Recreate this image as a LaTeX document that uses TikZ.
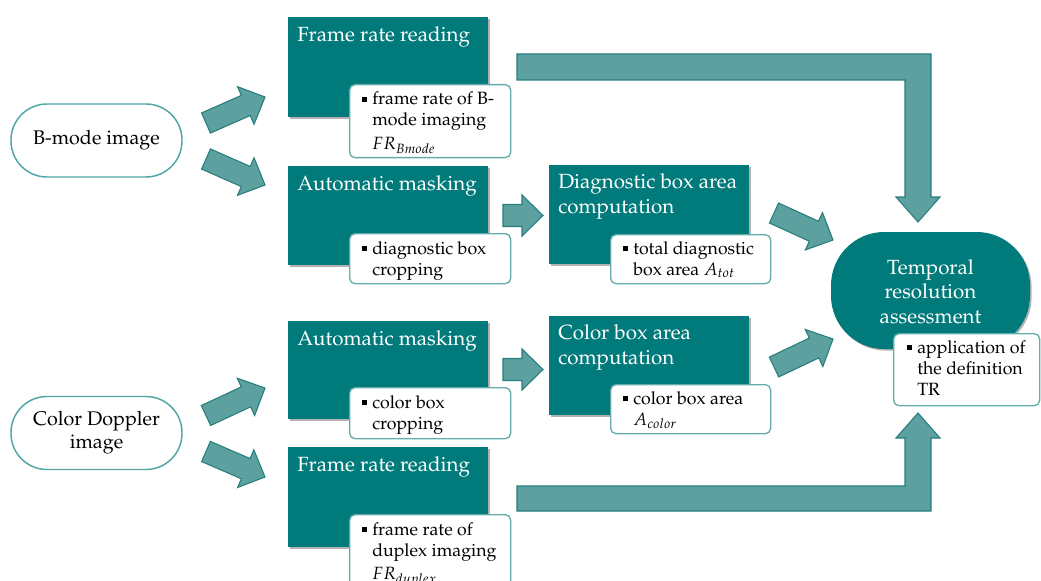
\documentclass[tikz,border=0pt]{standalone}
\usepackage[T1]{fontenc}
\usepackage{mathpazo}
\usetikzlibrary{calc,shadows}
\definecolor{darkteal}{RGB}{0,122,122}
\definecolor{arrowfill}{RGB}{92,160,160}
\definecolor{arrowline}{RGB}{40,125,125}
\definecolor{srcline}{RGB}{80,165,165}
\definecolor{subline}{RGB}{100,172,172}
\newcommand\bsq{\makebox[7.5pt][l]{\rule[2.6pt]{3.6pt}{3.6pt}}}
\newcommand\ind{\hspace*{7.5pt}}
\newcommand\txtlines[1]{\parbox[t]{300pt}{#1}}
\newcommand\barrow[2]{%
  \coordinate (tmpH) at ($(#2)!15.75pt!(#1)$);
  \path[barr] ($(#1)!8.25pt!90:(#2)$) -- ($(tmpH)!8.25pt!90:(#2)$) -- ($(tmpH)!15.4pt!90:(#2)$)
    -- (#2) -- ($(tmpH)!15.4pt!-90:(#2)$) -- ($(tmpH)!8.25pt!-90:(#2)$) -- ($(#1)!8.25pt!-90:(#2)$) -- cycle;}
\begin{document}
\begin{tikzpicture}[x=0.75pt,y=-0.75pt,
  dark/.style={fill=darkteal, draw=none, inner sep=0pt, anchor=north west,
    drop shadow={shadow xshift=1.2pt, shadow yshift=-1.2pt, opacity=0.3, fill=black}},
  subbox/.style={fill=white, draw=subline, line width=1pt, rounded corners=4pt, inner sep=0pt, anchor=north west},
  ttl/.style={text=white, inner sep=0pt, anchor=base west, font=\fontsize{15.4}{18.5}\selectfont},
  stx/.style={text=black, inner sep=0pt, anchor=base west, font=\fontsize{13.3}{15.75}\selectfont},
  src/.style={draw=srcline, line width=1.1pt, fill=white, rounded corners=27pt, minimum width=128.25pt,
    minimum height=54.75pt, align=center, inner sep=0pt, font=\fontsize{14.8}{17.25}\selectfont},
  trbox/.style={fill=darkteal, rounded corners=40pt, inner sep=0pt,
    drop shadow={shadow xshift=1.2pt, shadow yshift=-1.2pt, opacity=0.3, fill=black}},
  barr/.style={fill=arrowfill, draw=arrowline, line width=0.8pt, line join=miter}]
\useasboundingbox (0,0) rectangle (1041,581);

% source nodes
\node[src] (bm) at (96.5,140.5) {B-mode image};
\node[src] (cd) at (96.5,433) {Color Doppler\\image};

% dark process boxes
\node[dark, minimum width=150pt, minimum height=75pt] (frt) at (288,17) {};
\node[dark, minimum width=150pt, minimum height=74.25pt] (amt) at (288,166) {};
\node[dark, minimum width=150pt, minimum height=74.25pt] (dba) at (549,165) {};
\node[dark, minimum width=150pt, minimum height=73.5pt] (amb) at (288,321) {};
\node[dark, minimum width=150pt, minimum height=74.25pt] (cba) at (549,316) {};
\node[dark, minimum width=150pt, minimum height=75pt] (frb) at (288,447) {};
\node[trbox, minimum width=149.25pt, minimum height=87.75pt] (tra) at (930.5,290.5) {};

% titles
\node[ttl] (frtT) at ($(frt.north west)+(9,24.5)$) {Frame rate reading};
\node[ttl] (amtT) at ($(amt.north west)+(9,24.5)$) {Automatic masking};
\node[ttl] (dbaT) at ($(dba.north west)+(9,23.5)$) {\txtlines{Diagnostic box area\\computation}};
\node[ttl] (ambT) at ($(amb.north west)+(9,24.5)$) {Automatic masking};
\node[ttl] (cbaT) at ($(cba.north west)+(9,23.5)$) {\txtlines{Color box area\\computation}};
\node[ttl] (frbT) at ($(frb.north west)+(9,24.5)$) {Frame rate reading};
\node[ttl, anchor=base] (traT) at ($(tra.center)+(0,-16.5)$) {\parbox[t]{150pt}{\centering Temporal\\resolution\\assessment}};

% sub boxes
\node[subbox, minimum width=120.75pt, minimum height=54.75pt] (frtS) at (349,84) {};
\node[subbox, minimum width=120.75pt, minimum height=37.5pt] (amtS) at (349,233) {};
\node[subbox, minimum width=120pt, minimum height=36.75pt] (dbaS) at (610,234) {};
\node[subbox, minimum width=120.75pt, minimum height=38.25pt] (ambS) at (349,387) {};
\node[subbox, minimum width=120pt, minimum height=36.75pt] (cbaS) at (610,384) {};
\node[subbox, minimum width=120.75pt, minimum height=60pt] (frbS) at (349,514) {};
\node[subbox, minimum width=109.5pt, minimum height=54pt] (traS) at (893,333) {};

% sub texts
\node[stx] (frtST) at ($(frtS.north west)+(13,21)$) {\txtlines{\bsq frame rate of B-\\\ind mode imaging\\[2pt]\ind $FR_{Bmode}$}};
\node[stx] (amtST) at ($(amtS.north west)+(13,21)$) {\txtlines{\bsq diagnostic box\\\ind cropping}};
\node[stx] (dbaST) at ($(dbaS.north west)+(13,20)$) {\txtlines{\bsq total diagnostic\\\ind box area $A_{tot}$}};
\node[stx] (ambST) at ($(ambS.north west)+(13,21)$) {\txtlines{\bsq color box\\\ind cropping}};
\node[stx] (cbaST) at ($(cbaS.north west)+(13,20)$) {\txtlines{\bsq color box area\\\ind $A_{color}$}};
\node[stx] (frbST) at ($(frbS.north west)+(13,21)$) {\txtlines{\bsq frame rate of\\\ind duplex imaging\\[2pt]\ind $FR_{duplex}$}};
\node[stx] (traST) at ($(traS.north west)+(14,20)$) {\txtlines{\bsq application of\\\ind the definition\\\ind TR}};

% straight block arrows
\coordinate (a1s) at (206,123);   \coordinate (a1e) at (265,97);
\coordinate (a2s) at (206,159);   \coordinate (a2e) at (265,185);
\coordinate (a3s) at (206,415.5); \coordinate (a3e) at (265,388);
\coordinate (a4s) at (206,451.5); \coordinate (a4e) at (265,477);
\coordinate (a5s) at (503,215.5); \coordinate (a5e) at (543,215.5);
\coordinate (a6s) at (503,369.5); \coordinate (a6e) at (543,369.5);
\coordinate (a7s) at (774,213);   \coordinate (a7e) at (833,240);
\coordinate (a8s) at (774,367);   \coordinate (a8e) at (833,339);
\barrow{a1s}{a1e}
\barrow{a2s}{a2e}
\barrow{a3s}{a3e}
\barrow{a4s}{a4e}
\barrow{a5s}{a5e}
\barrow{a6s}{a6e}
\barrow{a7s}{a7e}
\barrow{a8s}{a8e}

% L-shaped block arrows
\path[barr] (517,54) -- (931,54) -- (931,197) -- (940,197) -- (918,222) -- (896,197) -- (905,197)
  -- (905,80) -- (517,80) -- cycle;
\path[barr] (517,511) -- (931,511) -- (931,438) -- (940,438) -- (918,413) -- (896,438) -- (905,438)
  -- (905,486) -- (517,486) -- cycle;
\end{tikzpicture}
\end{document}
